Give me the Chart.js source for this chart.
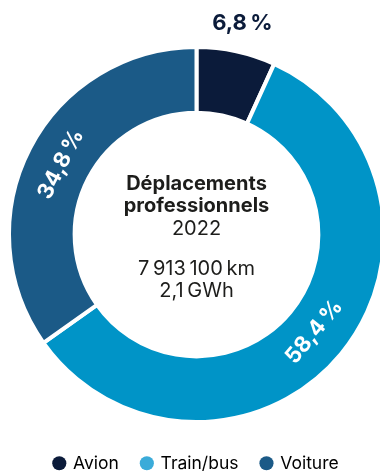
<!DOCTYPE html>
<html lang="fr">
<head>
<meta charset="utf-8">
<title>Déplacements professionnels 2022</title>
<script src="https://cdn.jsdelivr.net/npm/chart.js@4/dist/chart.umd.min.js"></script>
<style>
  html, body { margin: 0; padding: 0; background: #ffffff; overflow: hidden; }
  #wrap { position: relative; width: 393px; height: 482px; }
</style>
</head>
<body>
<div id="wrap"><canvas id="chart"></canvas></div>
<script>
// Modes de transport et part de chacun (%)
const categories = ['Avion', 'Train/bus', 'Voiture'];
const shares = [6.8, 58.4, 34.8];

// Couleurs des segments et des pastilles de légende
const segmentColors = ['#0b1b3a', '#0094c7', '#1b5a87'];
const legendColors = ['#0b1b3a', '#3aabd9', '#1b5a87'];

// Texte au centre de l'anneau
const centerTitle = ['Déplacements', 'professionnels'];
const centerYear = '2022';
const centerFigures = ['7\u202F913\u202F100\u202Fkm', '2,1\u202FGWh'];

const FONT = 'Inter, "Noto Sans", sans-serif';
const TEXT_DARK = '#1d1d1b';

const fmtPct = v => v.toFixed(1).replace('.', ',') + '\u202F%';

// Étiquettes de pourcentage : à l'extérieur pour le petit segment, sinon le long de l'anneau
const pctLabels = {
  id: 'pctLabels',
  afterDatasetsDraw(chart) {
    const ctx = chart.ctx;
    const meta = chart.getDatasetMeta(0);
    meta.data.forEach((arc, i) => {
      const p = arc.getProps(['x', 'y', 'startAngle', 'endAngle', 'innerRadius', 'outerRadius'], true);
      const a = (p.startAngle + p.endAngle) / 2;
      const text = fmtPct(chart.data.datasets[0].data[i]);
      ctx.save();
      ctx.font = 'bold 22px ' + FONT;
      ctx.textAlign = 'center';
      ctx.textBaseline = 'middle';
      if (i === 0) {
        const r = p.outerRadius + 29;
        ctx.fillStyle = '#0b1b3a';
        ctx.fillText(text, p.x + Math.cos(a) * r, p.y + Math.sin(a) * r);
      } else {
        const r = (p.innerRadius + p.outerRadius) / 2 - 2;
        ctx.translate(p.x + Math.cos(a) * r, p.y + Math.sin(a) * r);
        const cosA = Math.cos(a);
        ctx.rotate(cosA > 0 ? a - Math.PI / 2 : a + Math.PI / 2);
        ctx.fillStyle = '#ffffff';
        ctx.fillText(text, 0, 0);
      }
      ctx.restore();
    });
  }
};

// Titre et chiffres clés au centre
const centerText = {
  id: 'centerText',
  afterDraw(chart) {
    const arc = chart.getDatasetMeta(0).data[0];
    if (!arc) return;
    const cx = arc.x, cy = arc.y;
    const ctx = chart.ctx;
    ctx.save();
    ctx.textAlign = 'center';
    ctx.textBaseline = 'alphabetic';
    ctx.fillStyle = TEXT_DARK;
    ctx.font = 'bold 20px ' + FONT;
    ctx.fillText(centerTitle[0], cx, cy - 44.5);
    ctx.fillText(centerTitle[1], cx, cy - 22.5);
    ctx.font = '20px ' + FONT;
    ctx.fillText(centerYear, cx, cy + 0.5);
    ctx.fillText(centerFigures[0], cx, cy + 40.5);
    ctx.fillText(centerFigures[1], cx, cy + 62.5);
    ctx.restore();
  }
};

new Chart(document.getElementById('chart'), {
  type: 'doughnut',
  data: {
    labels: categories,
    datasets: [{
      data: shares,
      backgroundColor: segmentColors,
      borderColor: '#ffffff',
      borderWidth: 4,
      hoverOffset: 0
    }]
  },
  options: {
    responsive: true,
    maintainAspectRatio: false,
    animation: false,
    cutout: '65%',
    layout: { padding: { top: 37.5, left: 7, right: 7, bottom: 0 } },
    plugins: {
      tooltip: { enabled: false },
      legend: {
        position: 'bottom',
        labels: {
          usePointStyle: true,
          pointStyle: 'circle',
          boxWidth: 10,
          boxHeight: 10,
          padding: 23,
          color: '#333333',
          font: { family: FONT, size: 17.5 },
          generateLabels(chart) {
            return categories.map((c, i) => ({
              text: c,
              fillStyle: legendColors[i],
              strokeStyle: legendColors[i],
              lineWidth: 0,
              pointStyle: 'circle',
              hidden: false,
              index: i
            }));
          }
        }
      }
    }
  },
  plugins: [pctLabels, centerText]
});
</script>
</body>
</html>
